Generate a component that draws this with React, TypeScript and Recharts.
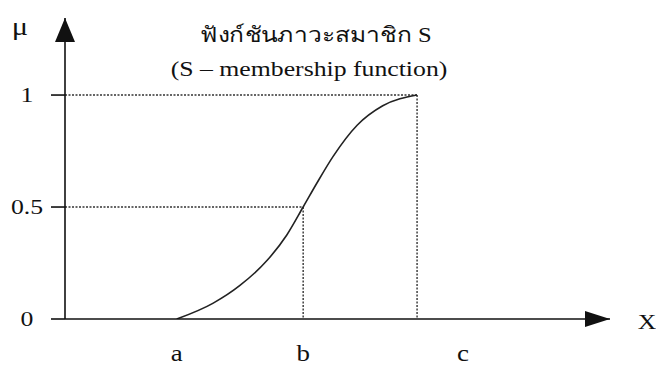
import { LineChart, Line, XAxis, YAxis, ReferenceLine, ReferenceDot } from "recharts";

// S-shaped membership curve: universe position vs membership degree
const xs = [2.05, 2.72, 3.21, 3.71, 4.07, 4.37, 4.62, 4.92, 5.36, 5.83, 6.46];
const mu = [0, 0.071, 0.15, 0.262, 0.375, 0.5, 0.606, 0.726, 0.865, 0.952, 1];

const xTicks = [2.05, 4.37, 7.3];
const xTickLabels = ["a", "b", "c"];
const yTicks = [0, 0.5, 1];
const yTickLabels = ["0", "0.5", "1"];

const title = "ฟังก์ชันภาวะสมาชิก S";
const subtitle = "(S – membership function)";

const data = xs.map((x, i) => ({ x, mu: mu[i] }));

// axis extents (the arrows sit at the ends)
const X_MAX = 10;
const Y_MAX = 1.344;

const W = 656;
const H = 366;
const SERIF = "'Liberation Serif', 'Times New Roman', serif";
const STRETCH = 1.17;
const INK = "#111";
const GUIDE = "#333";

const mid = data[data.findIndex((d) => d.mu === 0.5)];
const top = data[data.length - 1];

const ArrowUp = (props: any) => {
  const { cx, cy } = props;
  return <polygon points={`${cx},${cy} ${cx - 10},${cy + 24} ${cx + 10},${cy + 24}`} fill={INK} />;
};

const ArrowRight = (props: any) => {
  const { cx, cy } = props;
  return <polygon points={`${cx},${cy} ${cx - 25},${cy - 8} ${cx - 25},${cy + 8}`} fill={INK} />;
};

const YTick = (props: any) => {
  const { y, payload } = props;
  const label = yTickLabels[yTicks.indexOf(payload.value)];
  return (
    <text
      transform={`translate(27 ${y}) scale(${STRETCH} 1)`}
      textAnchor="middle"
      dominantBaseline="central"
      fontFamily={SERIF}
      fontSize={22}
      fill={INK}
    >
      {label}
    </text>
  );
};

const XTick = (props: any) => {
  const { x, y, payload } = props;
  const label = xTickLabels[xTicks.indexOf(payload.value)];
  return (
    <text
      transform={`translate(${x} ${y + 40}) scale(${STRETCH} 1)`}
      textAnchor="middle"
      fontFamily={SERIF}
      fontSize={23}
      fill={INK}
    >
      {label}
    </text>
  );
};

const overlayText = (
  text: string,
  cx: number,
  cy: number,
  size: number
) => (
  <div
    style={{
      position: "absolute",
      left: cx - 200,
      top: cy - 20,
      width: 400,
      height: 40,
      lineHeight: "40px",
      textAlign: "center",
      fontFamily: SERIF,
      fontSize: size,
      color: INK,
      whiteSpace: "nowrap",
      transform: `scaleX(${STRETCH})`,
    }}
  >
    {text}
  </div>
);

export default function App() {
  return (
    <div style={{ position: "absolute", left: 0, top: 0, width: W, height: H, background: "#fff" }}>
      <LineChart width={W} height={H} data={data} margin={{ top: 18, right: 46, left: 0, bottom: 0 }}>
        <XAxis
          dataKey="x"
          type="number"
          domain={[0, X_MAX]}
          ticks={xTicks}
          tick={<XTick />}
          tickLine={false}
          tickSize={0}
          height={47}
          axisLine={{ stroke: INK, strokeWidth: 1.6 }}
          allowDataOverflow
        />
        <YAxis
          type="number"
          domain={[0, Y_MAX]}
          ticks={yTicks}
          tick={<YTick />}
          tickSize={14}
          tickLine={{ stroke: INK, strokeWidth: 1.6 }}
          width={65}
          axisLine={{ stroke: INK, strokeWidth: 1.6 }}
          allowDataOverflow
        />

        {/* dotted guides to the 0.5 and 1 levels */}
        <ReferenceLine
          segment={[{ x: 0, y: mid.mu }, { x: mid.x, y: mid.mu }]}
          stroke={GUIDE}
          strokeWidth={1.4}
          strokeDasharray="2 1.5"
        />
        <ReferenceLine
          segment={[{ x: mid.x, y: mid.mu }, { x: mid.x, y: 0 }]}
          stroke={GUIDE}
          strokeWidth={1.4}
          strokeDasharray="2 1.5"
        />
        <ReferenceLine
          segment={[{ x: 0, y: top.mu }, { x: top.x, y: top.mu }]}
          stroke={GUIDE}
          strokeWidth={1.4}
          strokeDasharray="2 1.5"
        />
        <ReferenceLine
          segment={[{ x: top.x, y: top.mu }, { x: top.x, y: 0 }]}
          stroke={GUIDE}
          strokeWidth={1.4}
          strokeDasharray="2 1.5"
        />

        <Line
          type="monotone"
          dataKey="mu"
          stroke="#222"
          strokeWidth={1.6}
          dot={false}
          activeDot={false}
          isAnimationActive={false}
        />

        <ReferenceDot x={0} y={Y_MAX} r={0} shape={ArrowUp} ifOverflow="visible" />
        <ReferenceDot x={X_MAX} y={0} r={0} shape={ArrowRight} ifOverflow="visible" />
      </LineChart>

      {overlayText("μ", 20, 27, 26)}
      {overlayText("X", 647, 322, 22)}
      {overlayText(title, 316, 35, 21)}
      {overlayText(subtitle, 309, 69, 22)}
    </div>
  );
}
